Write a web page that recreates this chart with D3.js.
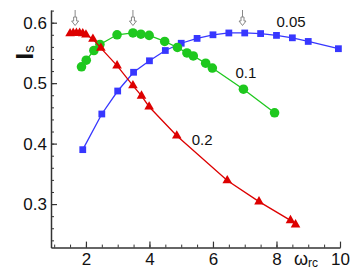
<!DOCTYPE html>
<html>
<head>
<meta charset="utf-8">
<script src="https://cdn.jsdelivr.net/npm/d3@7"></script>
<style>
  body { margin: 0; background: #fff; }
  svg text { font-family: "Liberation Sans", Arial, sans-serif; }
</style>
</head>
<body>
<svg id="chart" width="352" height="273"></svg>
<script>
// data
var blueX  = [1.9, 2.5, 3.0, 3.5, 4.0, 4.5, 5.0, 5.5, 6.0, 6.5, 7.0, 7.5, 8.0, 8.5, 9.0, 9.95];
var blueY  = [0.390, 0.449, 0.487, 0.518, 0.537, 0.554, 0.566, 0.574, 0.580, 0.583, 0.583, 0.582, 0.579, 0.575, 0.569, 0.557];
var greenX = [1.86, 2.01, 2.25, 2.44, 2.98, 3.48, 3.73, 3.99, 4.48, 4.88, 5.18, 5.38, 5.77, 5.98, 6.96, 7.94];
var greenY = [0.527, 0.538, 0.554, 0.564, 0.580, 0.583, 0.581, 0.579, 0.569, 0.559, 0.550, 0.545, 0.533, 0.525, 0.490, 0.451];
var redX   = [1.5, 1.6, 1.7, 1.8, 1.9, 2.0, 2.22, 2.47, 2.98, 3.48, 3.75, 3.99, 4.86, 6.45, 7.45, 8.44, 8.6];
var redY   = [0.582, 0.583, 0.583, 0.583, 0.582, 0.580, 0.573, 0.558, 0.529, 0.496, 0.479, 0.461, 0.413, 0.339, 0.304, 0.273, 0.266];

var xTicks = [2, 4, 6, 8, 10];
var yTicks = [0.3, 0.4, 0.5, 0.6];
var arrowX = [1.66, 3.48, 6.93];

var seriesLabels = [
  {text: "0.05", x: 8.0,  y: 0.593},
  {text: "0.1",  x: 6.71, y: 0.509},
  {text: "0.2",  x: 5.33, y: 0.398}
];

var svg = d3.select("#chart");

var x = d3.scaleLinear().domain([0.9, 10]).range([51, 340]);
var y = d3.scaleLinear().domain([0.228, 0.621]).range([247.6, 10]);

var axisColor = "#333";

// minor ticks
svg.append("g")
  .attr("transform", "translate(0,247.6)")
  .call(d3.axisBottom(x).tickValues(d3.range(1, 10.01, 0.5)).tickSize(-3).tickFormat(""))
  .call(g => g.select(".domain").remove())
  .call(g => g.selectAll("line").attr("stroke", axisColor));
svg.append("g")
  .attr("transform", "translate(51,0)")
  .call(d3.axisLeft(y).tickValues(d3.range(0.24, 0.621, 0.02)).tickSize(-3).tickFormat(""))
  .call(g => g.select(".domain").remove())
  .call(g => g.selectAll("line").attr("stroke", axisColor));

// major axes
var xAxis = svg.append("g")
  .attr("transform", "translate(0,247.6)")
  .call(d3.axisBottom(x).tickValues(xTicks).tickSize(-6).tickSizeOuter(0).tickPadding(3).tickFormat(d3.format("d")));
var yAxis = svg.append("g")
  .attr("transform", "translate(51,0)")
  .call(d3.axisLeft(y).tickValues(yTicks).tickSize(-6).tickSizeOuter(0).tickPadding(4).tickFormat(d3.format(".1f")));

[xAxis, yAxis].forEach(function(g){
  g.select(".domain").attr("stroke", axisColor).attr("stroke-width", 1.5);
  g.selectAll("line").attr("stroke", axisColor).attr("stroke-width", 1.2);
  g.selectAll("text").attr("fill", "#111").style("font-size", "17px");
});
xAxis.selectAll("text").attr("dy", "0.85em");

// series
function drawSeries(xs, ys, color, marker) {
  var pts = xs.map((d, i) => [d, ys[i]]);
  var line = d3.line().x(d => x(d[0])).y(d => y(d[1]));
  svg.append("path")
    .datum(pts)
    .attr("d", line)
    .attr("fill", "none")
    .attr("stroke", color)
    .attr("stroke-width", 1.3);
  svg.append("g").selectAll("path")
    .data(pts)
    .enter()
    .append("path")
    .attr("transform", d => "translate(" + x(d[0]) + "," + y(d[1]) + ")")
    .attr("d", marker)
    .attr("fill", color);
}

drawSeries(blueX, blueY, "#3737ff", d3.symbol().type(d3.symbolSquare).size(46)());
drawSeries(greenX, greenY, "#1ec81e", d3.symbol().type(d3.symbolCircle).size(72)());
drawSeries(redX, redY, "#dd0000", d3.symbol().type(d3.symbolTriangle).size(40)());

// arrows
var arrows = svg.append("g").attr("stroke", "#888").attr("fill", "#fff").attr("stroke-width", 1);
arrowX.forEach(function(a){
  var ax = x(a), top = 10, tip = 25.5;
  arrows.append("line").attr("x1", ax).attr("x2", ax).attr("y1", top).attr("y2", top + 7);
  arrows.append("path")
    .attr("d", "M" + (ax - 1.5) + "," + (top + 7) + " L" + (ax - 1.5) + "," + (top + 11) +
               " L" + (ax - 3.5) + "," + (top + 11) + " L" + ax + "," + tip +
               " L" + (ax + 3.5) + "," + (top + 11) + " L" + (ax + 1.5) + "," + (top + 11) +
               " L" + (ax + 1.5) + "," + (top + 7) + "Z");
});

// series labels
svg.append("g").selectAll("text")
  .data(seriesLabels)
  .enter()
  .append("text")
  .attr("x", d => x(d.x))
  .attr("y", d => y(d.y))
  .attr("fill", "#111")
  .style("font-size", "15px")
  .text(d => d.text);

// axis titles
var yt = svg.append("text")
  .attr("transform", "translate(33,59.5) rotate(-90)")
  .attr("fill", "#111");
yt.append("tspan").style("font-size", "24px").style("font-weight", "bold").text("I");
yt.append("tspan").style("font-size", "15px").attr("dy", "1").text("s");

var xt = svg.append("text")
  .attr("x", 294)
  .attr("y", 265)
  .attr("fill", "#111");
xt.append("tspan").style("font-size", "18px").text("ω");
xt.append("tspan").style("font-size", "12px").attr("dy", "2").text("rc");
</script>
</body>
</html>
